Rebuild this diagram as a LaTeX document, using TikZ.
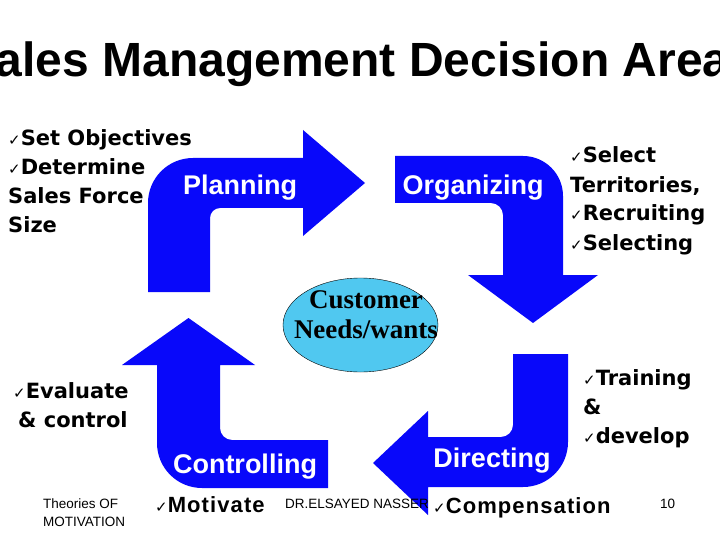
\documentclass[tikz,border=0pt]{standalone}
\usepackage{xcolor}
\usepackage{fontspec}
\setmainfont{Liberation Sans}
\newfontfamily\verdfont{DejaVu Sans}
\newfontfamily\tickfont{DejaVu Sans}
\newfontfamily\romfont{Liberation Serif}
\newfontfamily\widefont{Liberation Sans}[LetterSpace=5]
\usepackage{tikz}
\usetikzlibrary{positioning}
\definecolor{arrblue}{RGB}{8,8,250}
\definecolor{custcyan}{RGB}{80,200,240}
\newcommand{\chk}{{\tickfont\mdseries\fontsize{15pt}{15pt}\selectfont ✓}}

\begin{document}
\begin{tikzpicture}[
  x=1pt,y=-1pt,
  bentarr/.style={fill=arrblue},
  stagelbl/.style={text=white,inner sep=0pt,anchor=base,
                   font=\bfseries\fontsize{27pt}{30pt}\selectfont},
  item/.style={inner sep=0pt,anchor=base west,align=left,
               font=\verdfont\bfseries\fontsize{21pt}{29pt}\selectfont},
  wideitem/.style={inner sep=0pt,anchor=base west,
               font=\widefont\bfseries\fontsize{22pt}{26pt}\selectfont},
  small/.style={inner sep=0pt,anchor=base west,align=left,
                font=\fontsize{13.5pt}{18pt}\selectfont}
]
  \useasboundingbox (0,0) rectangle (720,540);
  \clip (0,0) rectangle (720,540);
  \fill[white] (0,0) rectangle (720,540);

  % title
  \node[inner sep=0pt,anchor=base,font=\bfseries\fontsize{48pt}{52pt}\selectfont]
    (title) at (360,77) {Sales Management Decision Areas};

  % the four bent arrows
  \fill[bentarr] (148,292) -- (148,203) .. controls (148,178.1) and (168.1,158) .. (193,158)
    -- (303,158) -- (303,130) -- (365,183) -- (303,236) -- (303,208)
    -- (220,208) .. controls (214.5,208) and (210,212.5) .. (210,218) -- (210,292) -- cycle;
  \fill[bentarr] (395,156) -- (523,156) .. controls (545.1,156) and (563,173.9) .. (563,196)
    -- (563,275) -- (598,275) -- (533,323) -- (468,275) -- (503,275)
    -- (503,215) .. controls (503,208.4) and (497.6,203) .. (491,203) -- (395,203) -- cycle;
  \fill[bentarr] (513,354) -- (568,354) -- (568,442) .. controls (568,466.9) and (547.9,487) .. (523,487)
    -- (428,487) -- (428,515) -- (373,463) -- (428,411) -- (428,437)
    -- (501,437) .. controls (507.6,437) and (513,431.6) .. (513,425) -- cycle;
  \fill[bentarr] (328,440) -- (232,440) .. controls (225.4,440) and (220,434.6) .. (220,428)
    -- (220,365) -- (255,365) -- (188.5,318) -- (122,365) -- (157,365)
    -- (157,443) .. controls (157,467.9) and (177.1,488) .. (202,488) -- (328,488) -- cycle;

  \node[stagelbl] (plan) at (240,195) {Planning};
  \node[stagelbl] (org) at (473,195) {Organizing};
  \node[stagelbl] (ctrl) at (245,473) {Controlling};
  \node[stagelbl] (dir) at (492,467) {Directing};

  % centre
  \draw[fill=custcyan,draw=black,thin] (360.5,325) ellipse (77.5pt and 47pt);
  \node[inner sep=0pt,anchor=base,align=center,
        font=\romfont\bfseries\fontsize{27pt}{30pt}\selectfont]
    (cust) at (366,338) {Customer\\Needs/wants};

  % decision lists (anchored on the last line)
  \node[item] (planlist) at (8,233) {\chk Set Objectives\\\chk Determine\\Sales Force\\Size};
  \node[item] (orglist) at (570,250) {\chk Select\\Territories,\\\chk Recruiting\\\chk Selecting};
  \node[item] (ctrllist) at (13,427) {\chk Evaluate\\\hspace{5pt}\& control};
  \node[item] (dirlist) at (583,443) {\chk Training\\\&\\\chk develop};
  \node[wideitem] (motiv) at (155,512) {\chk Motivate};
  \node[wideitem] (comp) at (433,513) {\chk Compensation};

  \node[small] (theory) at (43,526) {Theories OF\\MOTIVATION};
  \node[small] (author) at (285,508) {DR.ELSAYED NASSER};
  \node[small] (pageno) at (660,508) {10};
\end{tikzpicture}
\end{document}
